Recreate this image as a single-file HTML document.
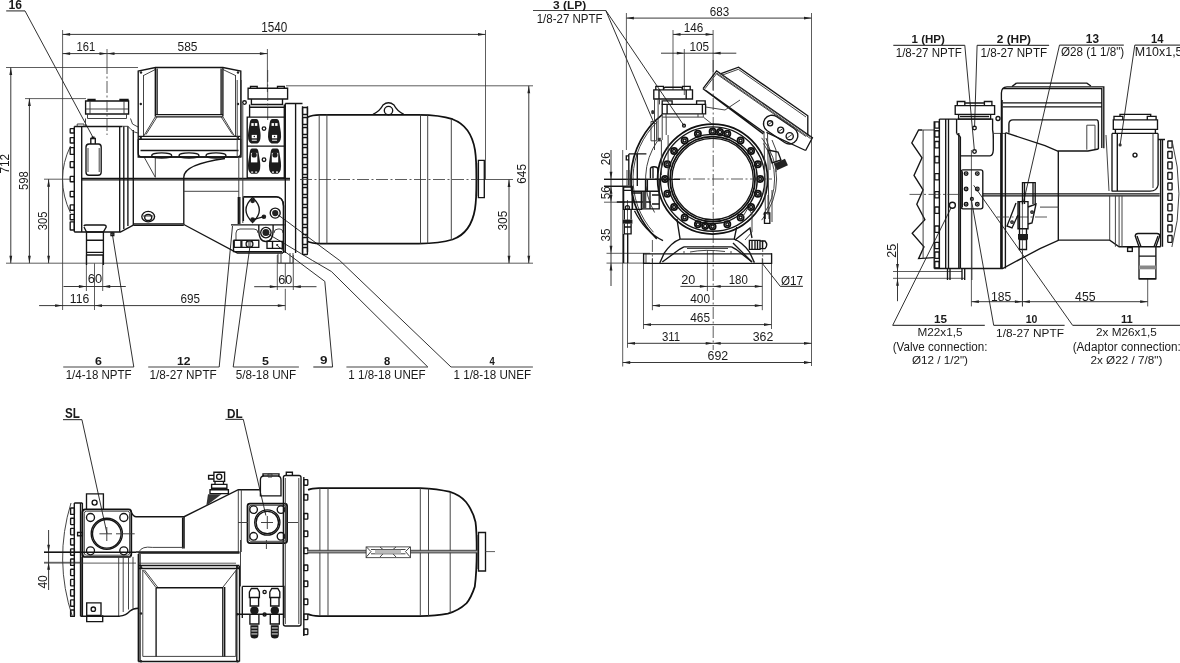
<!DOCTYPE html>
<html><head><meta charset="utf-8"><style>
html,body{margin:0;padding:0;background:#fff;width:1180px;height:663px;overflow:hidden}
svg{display:block;will-change:transform}
svg{-webkit-font-smoothing:antialiased}
text{font-family:"Liberation Sans",sans-serif;font-size:100px;fill:#1a1a1a}
</style></head><body>
<svg width="1180" height="663" viewBox="0 0 1180 663">
<style>
.d{stroke:#222;stroke-width:0.9;fill:none}
.e{stroke:#333;stroke-width:0.8;fill:none}
.u{stroke:#444;stroke-width:1.2;fill:none}
.ld{stroke:#1a1a1a;stroke-width:0.9;fill:none}
.c{stroke:#333;stroke-width:0.8;fill:none;stroke-dasharray:12 2.5 2 2.5}
.o{stroke:#151515;stroke-width:1.35;fill:none}
.O{stroke:#111;stroke-width:1.75;fill:none}
.t{stroke:#3a3a3a;stroke-width:0.95;fill:none}
.ar{fill:#222;stroke:none}
</style>
<line class="u" x1="6.2" y1="10.9" x2="25" y2="10.9"/>
<line class="ld" x1="25" y1="10.9" x2="93.6" y2="138.5"/>
<line class="d" x1="62.6" y1="34.4" x2="485.5" y2="34.4"/>
<polygon class="ar" points="62.60,34.40 70.10,33.00 70.10,35.80"/>
<polygon class="ar" points="485.50,34.40 478.00,33.00 478.00,35.80"/>
<line class="e" x1="62.6" y1="30" x2="62.6" y2="310"/>
<line class="e" x1="485.5" y1="30" x2="485.5" y2="179.5"/>
<line class="d" x1="62.6" y1="53.6" x2="267.4" y2="53.6"/>
<polygon class="ar" points="62.60,53.60 70.10,52.20 70.10,55.00"/>
<polygon class="ar" points="107.00,53.60 99.50,52.20 99.50,55.00"/>
<polygon class="ar" points="107.00,53.60 114.50,52.20 114.50,55.00"/>
<polygon class="ar" points="267.40,53.60 259.90,52.20 259.90,55.00"/>
<line class="e" x1="107" y1="49" x2="107" y2="62"/>
<line class="e" x1="267.4" y1="49" x2="267.4" y2="92"/>
<line class="e" x1="6" y1="67.5" x2="138" y2="67.5"/>
<line class="e" x1="25" y1="98.6" x2="86" y2="98.6"/>
<line class="d" x1="10.8" y1="67.5" x2="10.8" y2="263.2"/>
<polygon class="ar" points="10.80,67.50 9.40,75.00 12.20,75.00"/>
<polygon class="ar" points="10.80,263.20 9.40,255.70 12.20,255.70"/>
<line class="d" x1="29.4" y1="98.6" x2="29.4" y2="263.2"/>
<polygon class="ar" points="29.40,98.60 28.00,106.10 30.80,106.10"/>
<polygon class="ar" points="29.40,263.20 28.00,255.70 30.80,255.70"/>
<line class="d" x1="48.6" y1="179.2" x2="48.6" y2="263.2"/>
<polygon class="ar" points="48.60,179.20 47.20,186.70 50.00,186.70"/>
<polygon class="ar" points="48.60,263.20 47.20,255.70 50.00,255.70"/>
<line class="e" x1="6" y1="263.2" x2="533" y2="263.2"/>
<line class="e" x1="44" y1="179.2" x2="70" y2="179.2"/>
<line class="e" x1="286" y1="85.8" x2="533" y2="85.8"/>
<line class="d" x1="528.8" y1="85.8" x2="528.8" y2="263.2"/>
<polygon class="ar" points="528.80,85.80 527.40,93.30 530.20,93.30"/>
<polygon class="ar" points="528.80,263.20 527.40,255.70 530.20,255.70"/>
<line class="d" x1="509" y1="179.5" x2="509" y2="263.2"/>
<polygon class="ar" points="509.00,179.50 507.60,187.00 510.40,187.00"/>
<polygon class="ar" points="509.00,263.20 507.60,255.70 510.40,255.70"/>
<line class="e" x1="478" y1="179.5" x2="513" y2="179.5"/>
<line class="d" x1="63.5" y1="286.5" x2="125.8" y2="286.5"/>
<polygon class="ar" points="86.40,286.50 78.90,285.10 78.90,287.90"/>
<polygon class="ar" points="102.70,286.50 110.20,285.10 110.20,287.90"/>
<line class="e" x1="86.4" y1="255" x2="86.4" y2="291"/>
<line class="e" x1="102.7" y1="255" x2="102.7" y2="291"/>
<line class="d" x1="39.1" y1="305.6" x2="285.3" y2="305.6"/>
<polygon class="ar" points="62.60,305.60 55.10,304.20 55.10,307.00"/>
<polygon class="ar" points="94.50,305.60 102.00,304.20 102.00,307.00"/>
<polygon class="ar" points="285.30,305.60 277.80,304.20 277.80,307.00"/>
<line class="e" x1="94.5" y1="263.4" x2="94.5" y2="310"/>
<line class="e" x1="285.3" y1="288.8" x2="285.3" y2="310.2"/>
<line class="e" x1="285.3" y1="263" x2="285.3" y2="284"/>
<line class="d" x1="254.2" y1="286.7" x2="316.5" y2="286.7"/>
<polygon class="ar" points="277.30,286.70 269.80,285.30 269.80,288.10"/>
<polygon class="ar" points="293.30,286.70 300.80,285.30 300.80,288.10"/>
<line class="e" x1="277.3" y1="255" x2="277.3" y2="290"/>
<line class="e" x1="293.3" y1="255" x2="293.3" y2="290"/>
<line class="u" x1="63.2" y1="367" x2="133.8" y2="367"/>
<line class="ld" x1="133.8" y1="367" x2="112" y2="232"/>
<line class="u" x1="148.2" y1="367" x2="219.2" y2="367"/>
<line class="ld" x1="219.2" y1="367" x2="232.5" y2="226"/>
<line class="u" x1="233.2" y1="367" x2="298.9" y2="367"/>
<line class="ld" x1="233.2" y1="367" x2="250" y2="246"/>
<line class="u" x1="313.3" y1="367" x2="332.6" y2="367"/>
<path class="ld" d="M332.6,367 L324.8,281.4 L283.3,250.4 L277.6,245.9"/>
<line class="u" x1="346.4" y1="367" x2="427.8" y2="367"/>
<path class="ld" d="M427.8,367 L331.4,271.5 L312.7,260.6 L284.4,243.6 L266.3,232.9"/>
<line class="u" x1="451" y1="367" x2="532.9" y2="367"/>
<path class="ld" d="M451,367 L339.8,260.6 L281,217 L275.4,213.1"/>
<line class="u" x1="533" y1="10.5" x2="605.8" y2="10.5"/>
<line class="ld" x1="605.8" y1="10.5" x2="684" y2="125.7"/>
<line class="ld" x1="605.8" y1="10.5" x2="653.5" y2="122"/>
<line class="d" x1="626.4" y1="18.1" x2="811.5" y2="18.1"/>
<polygon class="ar" points="626.40,18.10 633.90,16.70 633.90,19.50"/>
<polygon class="ar" points="811.50,18.10 804.00,16.70 804.00,19.50"/>
<line class="e" x1="626.4" y1="13" x2="626.4" y2="150"/>
<line class="e" x1="811.5" y1="13" x2="811.5" y2="366"/>
<line class="d" x1="673" y1="34.4" x2="713.1" y2="34.4"/>
<polygon class="ar" points="673.00,34.40 680.50,33.00 680.50,35.80"/>
<polygon class="ar" points="713.10,34.40 705.60,33.00 705.60,35.80"/>
<line class="e" x1="673" y1="30" x2="673" y2="90"/>
<line class="e" x1="713.1" y1="30" x2="713.1" y2="90"/>
<line class="d" x1="661" y1="53.2" x2="736.3" y2="53.2"/>
<polygon class="ar" points="684.30,53.20 676.80,51.80 676.80,54.60"/>
<polygon class="ar" points="713.10,53.20 720.60,51.80 720.60,54.60"/>
<line class="e" x1="684.3" y1="49" x2="684.3" y2="95"/>
<line class="d" x1="611" y1="150" x2="611" y2="286"/>
<polygon class="ar" points="611.00,179.20 609.60,171.70 612.40,171.70"/>
<polygon class="ar" points="611.00,186.30 609.60,193.80 612.40,193.80"/>
<polygon class="ar" points="611.00,202.20 609.60,194.70 612.40,194.70"/>
<polygon class="ar" points="611.00,253.30 609.60,245.80 612.40,245.80"/>
<polygon class="ar" points="611.00,263.10 609.60,270.60 612.40,270.60"/>
<line class="e" x1="604" y1="179.2" x2="640" y2="179.2"/>
<line class="e" x1="604" y1="186.3" x2="633" y2="186.3"/>
<line class="e" x1="604" y1="202.2" x2="625" y2="202.2"/>
<line class="e" x1="606.5" y1="253.3" x2="650" y2="253.3"/>
<line class="e" x1="606.5" y1="263.1" x2="650" y2="263.1"/>
<line class="d" x1="680.4" y1="286.4" x2="762.3" y2="286.4"/>
<polygon class="ar" points="707.40,286.40 699.90,285.00 699.90,287.80"/>
<polygon class="ar" points="713.20,286.40 720.70,285.00 720.70,287.80"/>
<polygon class="ar" points="762.30,286.40 754.80,285.00 754.80,287.80"/>
<line class="e" x1="707.4" y1="250" x2="707.4" y2="291.1"/>
<line class="u" x1="780.3" y1="286.4" x2="802.9" y2="286.4"/>
<line class="ld" x1="780.3" y1="286.4" x2="762.6" y2="263.8"/>
<line class="d" x1="652.4" y1="305.6" x2="762.3" y2="305.6"/>
<polygon class="ar" points="652.40,305.60 659.90,304.20 659.90,307.00"/>
<polygon class="ar" points="762.30,305.60 754.80,304.20 754.80,307.00"/>
<line class="e" x1="652.4" y1="258" x2="652.4" y2="310.2"/>
<line class="e" x1="762.3" y1="258" x2="762.3" y2="310.2"/>
<line class="d" x1="643.5" y1="324.6" x2="771.5" y2="324.6"/>
<polygon class="ar" points="643.50,324.60 651.00,323.20 651.00,326.00"/>
<polygon class="ar" points="771.50,324.60 764.00,323.20 764.00,326.00"/>
<line class="e" x1="643.5" y1="253" x2="643.5" y2="329"/>
<line class="e" x1="771.5" y1="253" x2="771.5" y2="329"/>
<line class="d" x1="627.5" y1="343.3" x2="811.5" y2="343.3"/>
<polygon class="ar" points="627.50,343.30 635.00,341.90 635.00,344.70"/>
<polygon class="ar" points="713.20,343.30 705.70,341.90 705.70,344.70"/>
<polygon class="ar" points="713.20,343.30 720.70,341.90 720.70,344.70"/>
<polygon class="ar" points="811.50,343.30 804.00,341.90 804.00,344.70"/>
<line class="e" x1="627.5" y1="200" x2="627.5" y2="347.8"/>
<line class="d" x1="622.7" y1="362.5" x2="811.5" y2="362.5"/>
<polygon class="ar" points="622.70,362.50 630.20,361.10 630.20,363.90"/>
<polygon class="ar" points="811.50,362.50 804.00,361.10 804.00,363.90"/>
<line class="e" x1="622.7" y1="150" x2="622.7" y2="366.5"/>
<line class="c" x1="713.2" y1="60" x2="713.2" y2="350"/>
<line class="u" x1="893.3" y1="45.3" x2="964.8" y2="45.3"/>
<line class="ld" x1="964.8" y1="45.3" x2="974.3" y2="149.5"/>
<line class="u" x1="977.1" y1="45.3" x2="1049.1" y2="45.3"/>
<line class="ld" x1="977.1" y1="45.3" x2="974.6" y2="126"/>
<line class="u" x1="1059.5" y1="45.1" x2="1123.8" y2="45.1"/>
<line class="ld" x1="1059.5" y1="45.1" x2="1023.5" y2="202"/>
<line class="u" x1="1134.8" y1="45.1" x2="1180" y2="45.1"/>
<line class="ld" x1="1134.8" y1="45.1" x2="1120.1" y2="144.9"/>
<line class="d" x1="897.5" y1="243.3" x2="897.5" y2="301.2"/>
<polygon class="ar" points="897.50,271.50 896.10,264.00 898.90,264.00"/>
<polygon class="ar" points="897.50,278.30 896.10,285.80 898.90,285.80"/>
<line class="e" x1="893" y1="271.5" x2="962" y2="271.5"/>
<line class="e" x1="893" y1="278.3" x2="964.7" y2="278.3"/>
<line class="d" x1="971.4" y1="301.7" x2="1147.7" y2="301.7"/>
<polygon class="ar" points="971.40,301.70 978.90,300.30 978.90,303.10"/>
<polygon class="ar" points="1022.40,301.70 1014.90,300.30 1014.90,303.10"/>
<polygon class="ar" points="1022.40,301.70 1029.90,300.30 1029.90,303.10"/>
<polygon class="ar" points="1147.70,301.70 1140.20,300.30 1140.20,303.10"/>
<line class="e" x1="971.4" y1="150" x2="971.4" y2="306.4"/>
<line class="e" x1="1022.4" y1="200" x2="1022.4" y2="306.4"/>
<line class="e" x1="1147.7" y1="278.6" x2="1147.7" y2="306.4"/>
<line class="u" x1="892.7" y1="325.3" x2="984.8" y2="325.3"/>
<line class="ld" x1="892.7" y1="325.3" x2="951" y2="208"/>
<line class="u" x1="993.7" y1="325.3" x2="1064.6" y2="325.3"/>
<line class="ld" x1="993.7" y1="325.3" x2="971.6" y2="201"/>
<line class="u" x1="1072.6" y1="325.3" x2="1180" y2="325.3"/>
<line class="ld" x1="1072.6" y1="325.3" x2="973.7" y2="185.3"/>
<line class="u" x1="63" y1="419.6" x2="81.9" y2="419.6"/>
<line class="ld" x1="81.9" y1="419.6" x2="107" y2="533.5"/>
<line class="u" x1="225.4" y1="419.4" x2="243.3" y2="419.4"/>
<line class="ld" x1="243.3" y1="419.4" x2="265.9" y2="515.5"/>
<line class="d" x1="48.6" y1="530" x2="48.6" y2="590"/>
<polygon class="ar" points="48.60,552.20 47.20,544.70 50.00,544.70"/>
<polygon class="ar" points="48.60,562.30 47.20,569.80 50.00,569.80"/>
<line class="e" x1="44" y1="552.2" x2="80" y2="552.2"/>
<line class="e" x1="44" y1="562.3" x2="80" y2="562.3"/>
<path class="t" d="M70.5,146 Q54.5,179 70.5,213"/>
<rect class="o" x="70.2" y="128.6" width="4.1" height="4.4" rx="0.5"/>
<rect class="o" x="70.2" y="137.6" width="4.1" height="5.4" rx="0.5"/>
<rect class="o" x="70.2" y="147.6" width="4.1" height="6.8" rx="0.5"/>
<rect class="o" x="70.2" y="161.6" width="4.1" height="5.9" rx="0.5"/>
<rect class="o" x="70.2" y="176.4" width="4.1" height="5.4" rx="0.5"/>
<rect class="o" x="70.2" y="191.3" width="4.1" height="5.4" rx="0.5"/>
<rect class="o" x="70.2" y="204.9" width="4.1" height="5.4" rx="0.5"/>
<rect class="o" x="70.2" y="214.4" width="4.1" height="5.4" rx="0.5"/>
<rect class="o" x="70.2" y="221.8" width="4.1" height="8.2" rx="0.5"/>
<path class="o" d="M74.3,126.5 V232 M81.7,126.3 V232.2 M74.3,126.5 H122.4 M74.3,232 H120.4 L133.3,225.2"/>
<path class="t" d="M77.2,126.3 V124 H84 V126.3"/>
<path class="o" d="M119.7,126.3 V232 M123.8,126.3 V229 M127.9,126.3 V226 M133.3,130 V225.2"/>
<path class="o" d="M85.6,114 V101 H128.6 V114 Z M88,101 V99.5 H95 V101 M120,101 V99.5 H128 V101"/>
<path class="t" d="M87.5,114 V118.5 H126.5 V114 M85.5,118.5 V126.3 M130.5,118.5 L132.5,124 L138,127"/>
<path class="t" d="M86,109 H128 M90,101 V114 M124,101 V114"/>
<path class="c" d="M107,62 V135"/>
<path class="o" d="M86,147 Q86,144.2 89,144 L98.5,144 Q101.2,144.2 101.2,147 L101.2,172 Q101.2,175.2 98,175.2 L89,175.2 Q86,175.2 86,172 Z"/>
<path class="t" d="M88,148 V172 M99.2,148 V172"/>
<path class="o" d="M90.8,144 V138.5 H95.3 V144 M91.5,137.2 H94.6"/>
<path class="t" d="M122.4,126.3 L128,126.3 L131,129.5 L134.5,132 L137.8,133"/>
<path class="o" d="M81.7,178.4 H290 M81.7,179.8 H290"/>
<ellipse class="o" cx="148.2" cy="216.6" rx="6.4" ry="5.2"/>
<ellipse class="o" cx="148.2" cy="217.5" rx="3.5" ry="3"/>
<path class="t" d="M143,216 H153.4"/>
<path class="o" d="M133.3,223.9 H183.8 M133.3,225.4 H183.8"/>
<path class="o" d="M183.8,224.5 L237.4,253 H283"/>
<path class="o" d="M183.8,177 V224.5"/>
<path class="o" d="M183.8,177 C184,168 200,162 225,158.5"/>
<path class="t" d="M183.8,191.3 H238.8"/>
<path class="t" d="M155.3,157.2 V177.3 M144.2,157.2 L155.3,177.3"/>
<path class="o" d="M83.8,226 Q84.5,225 86,225 H104 Q106.2,225 106.2,227 L103.4,232 V265 M86.5,232 V265 M84,227 L86.5,232 H103.4"/>
<path class="o" d="M86.5,240.2 H103.4 M86.5,252.4 H103.4 M86.5,255 H103.4"/>
<rect class="o" x="111" y="233" width="2.8" height="2.6"/>
<path class="o" d="M138.2,157 V71 L155.5,67.5 H222.9 L240.8,71 V157 Z"/>
<path class="t" d="M143.5,75 V136 M235.5,75 V136"/>
<path class="t" d="M143.5,75.5 L155.3,69.5 M235.5,75.5 L222.9,69.5"/>
<path class="o" d="M155.3,67.8 V116.6 M157.1,68.5 V115 M222.9,67.8 V116.6 M221.1,68.5 V115"/>
<path class="o" d="M155.3,114.6 H222.9 M155.3,116.8 H222.9"/>
<path class="t" d="M155.3,116.8 L143.7,136.1 M157.1,116.8 L146,134.5 M222.9,116.8 L234.5,136.1 M221.1,116.8 L232.5,134.5"/>
<path class="o" d="M138.2,136.3 H240.8 M138.2,139.2 H240.8"/>
<path class="o" d="M140.5,150.5 H238.5"/>
<path class="o" d="M138.2,139.2 V153 Q138.2,157 142,157 H237 Q240.8,157 240.8,153 V139"/>
<ellipse class="o" cx="161.7" cy="155.5" rx="10" ry="2.6"/>
<ellipse class="o" cx="189" cy="155.5" rx="10" ry="2.6"/>
<ellipse class="o" cx="216" cy="155.5" rx="10" ry="2.6"/>
<circle cx="140.8" cy="104" r="1.2" fill="#222"/>
<circle cx="238" cy="104" r="1.2" fill="#222"/>
<circle cx="141" cy="72.5" r="1.2" fill="#222"/>
<circle cx="238" cy="72.5" r="1.2" fill="#222"/>
<circle cx="140.8" cy="138" r="1.2" fill="#222"/>
<circle cx="238" cy="138" r="1.2" fill="#222"/>
<circle class="o" cx="244.5" cy="102.6" r="1.8"/>
<path class="t" d="M238.8,157 V223 M242.8,104 V223 M237.2,80 V157 M241.2,80 V157"/>
<path class="o" d="M248.1,88.2 H287.6 V99 H248.1 Z M250.5,88.2 V86.3 H257.2 V88.2 M277.5,88.2 V86.3 H284.3 V88.2"/>
<path class="o" d="M251.4,99 V104.5 H282.5 V99 M249.6,104.5 V117.1 M284.3,104.5 V117.1 M249.6,107.2 H284.3"/>
<path class="c" d="M267.7,70 V122"/>
<path class="o" d="M247.2,117.1 H284.3 V177.8 H247.2 Z M247.2,146.1 H284.3"/>
<path fill="#1c1c1c" d="M249.7,122.9 Q250.2,118.9 252.29999999999998,118.9 H256.29999999999995 Q258.4,118.9 258.9,122.9 L260.4,132.485 Q261.4,141.6 257.29999999999995,143.6 H251.29999999999998 Q247.2,141.6 248.2,132.485 Z"/>
<rect fill="#fff" x="251.29999999999998" y="123.10000000000001" width="6" height="2.8"/>
<rect fill="#1c1c1c" x="253.7" y="123.10000000000001" width="1.2" height="2.8"/>
<rect fill="#fff" x="251.7" y="134.9" width="5.2" height="3.4"/>
<circle fill="#1c1c1c" cx="254.29999999999998" cy="136.5" r="0.8"/>
<rect fill="#fff" x="251.79999999999998" y="139.70000000000002" width="5" height="1"/>
<path fill="#1c1c1c" d="M269.7,122.9 Q270.2,118.9 272.54999999999995,118.9 H276.54999999999995 Q278.9,118.9 279.4,122.9 L280.9,132.485 Q281.9,141.6 277.54999999999995,143.6 H271.54999999999995 Q267.2,141.6 268.2,132.485 Z"/>
<rect fill="#fff" x="271.54999999999995" y="123.10000000000001" width="6" height="2.8"/>
<rect fill="#1c1c1c" x="273.94999999999993" y="123.10000000000001" width="1.2" height="2.8"/>
<rect fill="#fff" x="271.94999999999993" y="134.9" width="5.2" height="3.4"/>
<circle fill="#1c1c1c" cx="274.54999999999995" cy="136.5" r="0.8"/>
<rect fill="#fff" x="272.04999999999995" y="139.70000000000002" width="5" height="1"/>
<path fill="#1c1c1c" d="M249.7,152.4 Q250.2,148.4 252.15,148.4 H256.15 Q258.1,148.4 258.6,152.4 L260.1,162.315 Q261.1,171.7 257.15,173.7 H251.15 Q247.2,171.7 248.2,162.315 Z"/>
<rect fill="#fff" x="250.95000000000002" y="152.9" width="6.4" height="9.5"/>
<circle fill="#1c1c1c" cx="254.15" cy="154.9" r="2.6"/>
<rect fill="#fff" x="251.15" y="171.5" width="2" height="1.2"/>
<rect fill="#fff" x="255.15" y="171.5" width="2" height="1.2"/>
<path fill="#1c1c1c" d="M270.6,152.4 Q271.1,148.4 273.0,148.4 H277.0 Q278.9,148.4 279.4,152.4 L280.9,162.315 Q281.9,171.7 278.0,173.7 H272.0 Q268.1,171.7 269.1,162.315 Z"/>
<rect fill="#fff" x="271.8" y="152.9" width="6.4" height="9.5"/>
<circle fill="#1c1c1c" cx="275.0" cy="154.9" r="2.6"/>
<rect fill="#fff" x="272.0" y="171.5" width="2" height="1.2"/>
<rect fill="#fff" x="276.0" y="171.5" width="2" height="1.2"/>
<circle class="o" cx="264" cy="128.6" r="1.8"/><circle class="o" cx="264" cy="159.7" r="1.8"/>
<path class="o" d="M243.5,196.7 H275.4 Q283.5,197 283.5,206 V253"/>
<path class="o" d="M252.6,197.5 Q259.5,204 259.3,210 Q259.5,216 252.6,222.5 Q245.8,216 246,210 Q245.8,204 252.6,197.5 Z"/>
<circle fill="#222" cx="252.6" cy="200.8" r="2.4"/><circle fill="#222" cx="252.6" cy="219.7" r="2.4"/><circle fill="#222" cx="263.9" cy="216.7" r="2.3"/>
<path class="o" d="M252.6,219.7 L263.9,216.7"/>
<circle class="o" cx="275.2" cy="213.1" r="5"/><circle fill="#222" cx="275.2" cy="213.1" r="3.1"/>
<circle class="o" cx="265.9" cy="232.6" r="5.2"/><circle fill="#222" cx="265.9" cy="232.6" r="3.5"/>
<path class="o" d="M258.8,224.9 V230 Q258.8,241.5 265.9,241.5 Q273.1,241.5 273.1,230 V224.9"/>
<path class="o" d="M231,224.9 H284.5 M233.5,240.2 V251.6 H282 M238.3,197 V224 M239.8,197 V224 M243.4,197.2 V221"/>
<path class="t" d="M236,240 V233 Q236,229 240,229 H254 Q258,229 258,233 M274,233 Q274,229 278,229 H280 Q283,229 283,233"/>
<path class="o" d="M234.2,240.2 H258.8 V247.4 H234.2 Z"/>
<rect fill="#222" x="240.3" y="240.2" width="2.2" height="7.2"/>
<circle class="o" cx="249.5" cy="244.1" r="3.4"/><rect fill="#333" x="247.8" y="240.5" width="3.4" height="6.8" opacity="0.55"/>
<path class="o" d="M267,241.3 H282.3 V248.4 H267 Z M272.5,241.3 V248.4"/>
<circle fill="#222" cx="277.2" cy="245" r="1.1"/>
<path class="o" d="M243.5,196.7 H275.4 Q283.5,197 283.5,206 V253"/>
<path class="t" d="M278,253 V263.2 H293 V253 M281,253 V263 M290,253 V263"/>
<path class="o" d="M285.3,103.5 V253 M295.6,103.5 V253 M302.5,106.3 V253 M285.3,103.5 H302.5"/>
<path class="o" d="M307.5,106.3 V252"/>
<rect class="o" x="302.6" y="107.5" width="4.8" height="7" rx="0.6"/>
<rect class="o" x="302.6" y="117.5" width="4.8" height="7" rx="0.6"/>
<rect class="o" x="302.6" y="127.5" width="4.8" height="7" rx="0.6"/>
<rect class="o" x="302.6" y="137.5" width="4.8" height="7" rx="0.6"/>
<rect class="o" x="302.6" y="147.5" width="4.8" height="7" rx="0.6"/>
<rect class="o" x="302.6" y="157.5" width="4.8" height="7" rx="0.6"/>
<rect class="o" x="302.6" y="167.5" width="4.8" height="7" rx="0.6"/>
<rect class="o" x="302.6" y="177.5" width="4.8" height="7" rx="0.6"/>
<rect class="o" x="302.6" y="187.5" width="4.8" height="7" rx="0.6"/>
<rect class="o" x="302.6" y="197.5" width="4.8" height="7" rx="0.6"/>
<rect class="o" x="302.6" y="207.5" width="4.8" height="7" rx="0.6"/>
<rect class="o" x="302.6" y="217.5" width="4.8" height="7" rx="0.6"/>
<rect class="o" x="302.6" y="227.5" width="4.8" height="7" rx="0.6"/>
<rect class="o" x="302.6" y="237.5" width="4.8" height="7" rx="0.6"/>
<rect class="o" x="302.6" y="247.5" width="4.8" height="7" rx="0.6"/>
<path class="O" d="M307.5,117.2 Q312,115 320,114.9 H419 Q440,115 452.6,119.2 Q471,126 475,150 Q476.5,160 476.5,179.5 Q476.5,199 475,209 Q471,233 452.6,239.5 Q440,243.4 419,243.6 H320 Q312,243.3 307.5,241.5"/>
<path class="t" d="M319.2,114.3 V243.6 M326.9,114.3 V243.6 M420.5,114.3 V243.6 M427.7,114.5 V243.5 M451.3,119 V240"/>
<path class="o" d="M478.4,160.3 H484.3 V197.6 H478.4 Z M476.5,163 V196"/>
<path class="o" d="M373,114.3 Q380,111 383,105 Q388.5,100.5 394,105 Q397,111 403.8,114.3"/>
<circle class="o" cx="388.5" cy="110.6" r="4.2"/>
<path class="c" d="M300,179.5 H478 "/>
<path class="O" d="M656.88,238.75 A81.7,81.7 0 0 1 662.30,114.62"/>
<path class="t" d="M653.45,232.26 A79.6,79.6 0 0 1 657.31,121.74"/>
<path class="t" d="M654.58,212.50 A67,67 0 0 1 657.72,140.57"/>
<path class="t" d="M761.63,137.86 A64,64 0 0 1 761.63,220.14"/>
<path class="t" d="M763.39,143.44 A62,62 0 0 1 763.39,214.56"/>
<circle class="O" cx="712.6" cy="179.0" r="55"/>
<circle class="o" cx="712.6" cy="179.0" r="52.2"/>
<circle class="o" cx="712.6" cy="179.0" r="44.7"/>
<circle class="O" cx="712.6" cy="179.0" r="42.5"/>
<circle class="o" cx="712.6" cy="179.0" r="40.7"/>
<circle class="O" cx="760.20" cy="179.00" r="3.1"/><circle class="o" cx="760.20" cy="179.00" r="1.5"/>
<circle class="O" cx="757.87" cy="193.71" r="3.1"/><circle class="o" cx="757.87" cy="193.71" r="1.5"/>
<circle class="O" cx="751.11" cy="206.98" r="3.1"/><circle class="o" cx="751.11" cy="206.98" r="1.5"/>
<circle class="O" cx="740.58" cy="217.51" r="3.1"/><circle class="o" cx="740.58" cy="217.51" r="1.5"/>
<circle class="O" cx="727.31" cy="224.27" r="3.1"/><circle class="o" cx="727.31" cy="224.27" r="1.5"/>
<circle class="O" cx="684.62" cy="217.51" r="3.1"/><circle class="o" cx="684.62" cy="217.51" r="1.5"/>
<circle class="O" cx="674.09" cy="206.98" r="3.1"/><circle class="o" cx="674.09" cy="206.98" r="1.5"/>
<circle class="O" cx="667.33" cy="193.71" r="3.1"/><circle class="o" cx="667.33" cy="193.71" r="1.5"/>
<circle class="O" cx="665.00" cy="179.00" r="3.1"/><circle class="o" cx="665.00" cy="179.00" r="1.5"/>
<circle class="O" cx="667.33" cy="164.29" r="3.1"/><circle class="o" cx="667.33" cy="164.29" r="1.5"/>
<circle class="O" cx="674.09" cy="151.02" r="3.1"/><circle class="o" cx="674.09" cy="151.02" r="1.5"/>
<circle class="O" cx="684.62" cy="140.49" r="3.1"/><circle class="o" cx="684.62" cy="140.49" r="1.5"/>
<circle class="O" cx="697.89" cy="133.73" r="3.1"/><circle class="o" cx="697.89" cy="133.73" r="1.5"/>
<circle class="O" cx="740.58" cy="140.49" r="3.1"/><circle class="o" cx="740.58" cy="140.49" r="1.5"/>
<circle class="O" cx="751.11" cy="151.02" r="3.1"/><circle class="o" cx="751.11" cy="151.02" r="1.5"/>
<circle class="O" cx="757.87" cy="164.29" r="3.1"/><circle class="o" cx="757.87" cy="164.29" r="1.5"/>
<circle class="O" cx="712.6" cy="131.4" r="3.1"/><circle class="o" cx="712.6" cy="131.4" r="1.6"/>
<circle class="O" cx="720.0" cy="132.0" r="3.1"/><circle class="o" cx="720.0" cy="132.0" r="1.6"/>
<circle class="O" cx="727.3" cy="133.7" r="3.1"/><circle class="o" cx="727.3" cy="133.7" r="1.6"/>
<circle class="O" cx="697.9" cy="224.3" r="3.1"/><circle class="o" cx="697.9" cy="224.3" r="1.6"/>
<circle class="O" cx="705.2" cy="226.0" r="3.1"/><circle class="o" cx="705.2" cy="226.0" r="1.6"/>
<circle class="O" cx="712.6" cy="226.6" r="3.1"/><circle class="o" cx="712.6" cy="226.6" r="1.6"/>
<line class="c" x1="655" y1="179" x2="772" y2="179"/>
<path class="o" d="M643.6,253.8 H771.6 V263.3 H643.6 Z"/>
<path class="t" d="M646,253.8 V263.3"/>
<line class="c" x1="652.4" y1="240" x2="652.4" y2="263.3"/>
<line class="c" x1="762.7" y1="240" x2="762.7" y2="263.3"/>
<path class="o" d="M676.9,218.8 L680.1,239.1 M736.7,227 L734.1,239.8 M680.1,239.1 H734.1"/>
<path class="o" d="M680.1,239.1 Q672,242 664.2,253.1 L659.8,263 M734.1,239.1 Q742,242 749.4,251.8 L754.4,262.6"/>
<path class="o" d="M683.9,246.8 H731.6 M683.9,246.8 L679.5,249.3 L662.3,262 M731.6,246.8 L736,249.3 L752,262"/>
<path class="t" d="M687,248.5 H728 M684,251 V253.8 M731,251 V253.8 M690,252 Q705,249 725,251.5"/>
<path class="o" d="M749.4,240.4 H760 V249.3 H749.4 Z M760,241 H765 Q768.5,244.8 765,248.6 H760"/>
<path class="o" d="M752,240.4 V249.3 M755,240.4 V249.3 M757.5,240.4 V249.3 M762.5,241 V248.6"/>
<path class="o" d="M735,240 L750,228 L752,238 M733,243 L752,262"/>
<path class="t" d="M742,218 L748,208 L752,214 V232 L745,240"/>
<path class="o" d="M703,88.7 L716.6,70.9 L812.4,137.8 L805.6,150.5"/>
<path class="t" d="M704.8,88.9 L716.9,73.2 L810.6,138.6"/>
<path class="t" d="M718.5,72.5 L811,137.2"/>
<path class="o" d="M721,73.6 L738.5,67.2 L807.8,115.8 V135.4"/>
<path class="t" d="M722.5,75 L738.3,69.3 L806,117"/>
<path class="o" d="M703,88.7 L763.3,133.9 M705.5,90.3 L764.5,132.6"/>
<path class="o" d="M766.4,132.4 L805.6,150.5"/>
<g transform="translate(780.7,129.6) rotate(34)"><rect class="o" x="-19" y="-8.5" width="38" height="17" rx="8.5"/></g>
<circle class="o" cx="770.1" cy="123.3" r="2.6"/>
<line class="t" x1="768.3" y1="124.6" x2="771.9" y2="122.0"/>
<circle class="o" cx="780.7" cy="130.1" r="3.0"/>
<line class="t" x1="778.6" y1="131.6" x2="782.8" y2="128.6"/>
<circle class="o" cx="789.7" cy="136.2" r="3.6"/>
<line class="t" x1="787.2" y1="138.0" x2="792.2" y2="134.4"/>
<path class="t" d="M766,138 L770,150 V170 M772,140 L776,150 V172"/>
<path class="o" d="M768,150 L778,152 L781,160 L772,163 Z"/>
<rect x="775" y="161" width="12" height="7" fill="#222" transform="rotate(-25 781 164.5)"/>
<path class="t" d="M768,195 V215 M772,190 V222"/>
<path class="t" d="M764,133 L765.5,219 M767.5,133 L769,219"/>
<path class="o" d="M764.5,212.8 H769.8 V223.4 H764.5 Z"/>
<path class="t" d="M716.6,74 L806,136.5"/>
<path class="o" d="M653.8,89.9 H692.5 V99 H653.8 Z M659,89.9 V99 M686.2,89.9 V99"/>
<path class="o" d="M655.8,89.9 V86.3 H663.5 V89.9 M682.5,89.9 V86.3 H690.2 V89.9 M663.5,88.5 L665.3,87.2 H681 L682.5,88.5"/>
<path class="o" d="M662.2,104.4 H705.6 V113.9 H662.2 Z M667.1,104.4 V113.9 M702.4,104.4 V113.9"/>
<path class="o" d="M662.2,104.4 V100.8 H672.1 V104.4 M696.6,104.4 V100.8 H705.2 V104.4"/>
<path class="t" d="M662.2,113.9 V117.1 H703.3 V113.9 M666,113.9 V117.1 M698,113.9 V117.1"/>
<path class="t" d="M654.5,99 V150 M658.1,99 V140 M659.5,99 V104.4 M662.2,117.1 V140 M666.2,117.1 V135"/>
<path class="t" d="M703.3,117.1 L712,124 M705.6,107 L725,110 L740,100"/>
<ellipse fill="#333" cx="652.7" cy="112.1" rx="1.6" ry="2.2"/>
<circle class="o" cx="684" cy="125.7" r="1.4"/>
<path class="o" d="M628.8,153.9 H646.4 M628.8,153.9 V185.3 M637.3,153.9 V186 M626.3,155.9 H628.8 V159.8 H626.3 Z"/>
<path class="t" d="M661.4,140 V175 M668.1,135 V175"/>
<path class="t" d="M651,121.5 H656.6 V140.8 H651 Z"/>
<rect fill="#333" x="657.8" y="137.8" width="3" height="3.6"/>
<line class="o" x1="604" y1="179.3" x2="680" y2="179.3"/>
<line class="o" x1="604" y1="186.3" x2="632.4" y2="186.3"/>
<line class="o" x1="616.8" y1="202" x2="650.8" y2="202"/>
<path class="o" d="M650.4,178.4 V169 Q650.4,166.7 654,166.7 Q657.7,166.7 657.7,169 V178.4 M653,167.5 V178.4"/>
<path class="o" d="M637.6,179.4 H659.2 V191.2 M645.5,179.4 V191.2 M647.4,179.4 V191.2 M632.7,191.2 H659.2"/>
<path class="o" d="M641.5,191.2 V208.8 H659.2 V191.2 M650,191.2 V208.8 M652,195 H659 M652,204 H659"/>
<rect fill="#444" x="642.5" y="192" width="3.8" height="16"/>
<path class="o" d="M632.4,193 H641.5 V209.4 H632.4 Z"/>
<path class="o" d="M623.6,187 H632.4 V209.4 H623.6 Z M623.6,190.4 H632.4"/>
<circle class="o" cx="627.4" cy="207.6" r="2"/>
<path class="o" d="M624.3,209.4 V219.6 M631.1,209.4 V219.6"/>
<rect fill="#1c1c1c" x="622.9" y="219.6" width="9.5" height="4.1"/>
<path class="o" d="M624.3,223.7 V227 M631.1,223.7 V227 M624.3,227 H631.1 V233.9 H624.3 Z"/>
<path class="o" d="M623.6,233.9 V263 M627.7,233.9 V263"/>
<path class="t" d="M627,170 V187 M629,170 V187"/>
<path class="o" d="M634.5,210.8 Q645,232 663,240.7"/>
<path class="o" d="M922,130 L918.6,130 L911.8,142.9 L922,157.8 L914,175.4 L923.1,189.8 L916.8,204.3 L924.9,219.7 L912.2,233.2 L924,246.8 L918.6,258.6 L933.9,257.6"/>
<path class="t" d="M922,130 H934.2 M923.1,130 V258"/>
<path class="o" d="M934.2,121.2 V268.5 M939.4,119.1 V268.5 M945.7,119.1 V268.5 M948.5,119.1 V268.5 M956.6,119.1 V133.4 M958.8,133 V268.5 M960.4,136.8 V268.5"/>
<path class="o" d="M939.4,119.1 H956.6 M934.2,268.5 H960.4"/>
<rect class="o" x="934.8" y="121.8" width="4.4" height="6.3" rx="0.6"/>
<rect class="o" x="934.8" y="130.7" width="4.4" height="6.3" rx="0.6"/>
<rect class="o" x="934.8" y="141.5" width="4.4" height="6.3" rx="0.6"/>
<rect class="o" x="934.8" y="156.5" width="4.4" height="6.3" rx="0.6"/>
<rect class="o" x="934.8" y="173.6" width="4.4" height="6.3" rx="0.6"/>
<rect class="o" x="934.8" y="191.6" width="4.4" height="6.3" rx="0.6"/>
<rect class="o" x="934.8" y="207.0" width="4.4" height="6.3" rx="0.6"/>
<rect class="o" x="934.8" y="226.0" width="4.4" height="6.3" rx="0.6"/>
<rect class="o" x="934.8" y="242.3" width="4.4" height="6.3" rx="0.6"/>
<rect class="o" x="934.8" y="252.0" width="4.4" height="6.3" rx="0.6"/>
<rect class="o" x="934.8" y="261.5" width="4.4" height="6.3" rx="0.6"/>
<path class="o" d="M955.2,105.6 H994.6 V114.4 H955.2 Z M957.3,105.6 V101.5 H964.8 V105.6 M984.4,105.6 V101.5 H991.9 V105.6 M965,103 H984.4"/>
<path class="o" d="M958.6,114.4 V119.1 H990.6 V114.4 M960,116.5 H989"/>
<path class="o" d="M956.6,119.1 H992.6 V130 Q993.5,133.4 993.3,140 V150 Q993,155.8 989.9,155.8 H960.4 M956.6,133.4 L960.4,136.8"/>
<circle class="o" cx="974.5" cy="128" r="1.8"/><circle class="o" cx="974.5" cy="151.5" r="1.8"/>
<circle class="o" cx="998" cy="118.5" r="2"/>
<path class="t" d="M994,133.4 H1005.5"/>
<path class="o" d="M1001.4,133 V93 Q1001.4,87 1007,86.8 H1103.8 V148.3"/>
<path class="o" d="M1003,88.6 H1102 M1016.4,83.1 H1086.9 L1090.9,86 M1016.4,83.1 L1012,86.5"/>
<path class="o" d="M1002.8,102.8 H1101.8 M1002.8,106.9 H1101.8 M1101.8,88 V148"/>
<path class="o" d="M1008.9,132.7 V124 Q1008.9,119.8 1013,119.8 H1097 Q1098.4,120 1098.4,124 V149"/>
<path class="t" d="M1086.8,125.2 H1095 V149.7 M1086.8,125.2 V149.7"/>
<path class="o" d="M1005.5,132.7 L1045,145.6 L1057.7,151 H1088 L1098.4,149"/>
<path class="o" d="M1002.1,100 V268.5 M1000.8,133 V268.5"/>
<path class="o" d="M1058.3,151 V240.1 M1005.4,133 V268.5"/>
<path class="o" d="M960.4,268.5 H1002.6 L1040,248.6 L1058.8,240.1 H1109.7 L1119.1,246.7 H1160.6"/>
<path class="t" d="M1040,207.1 H1058.8"/>
<line class="c" x1="997" y1="217" x2="1049.4" y2="217"/>
<path class="o" d="M982.8,193.9 H1159.7 M982.8,195.8 H1159.7"/>
<line class="c" x1="909.5" y1="194.4" x2="960" y2="194.4"/>
<path class="o" d="M963,169.9 H980.8 Q982.8,169.9 982.8,172 V206.8 Q982.8,208.8 980.8,208.8 H963 Q961.1,208.8 961.1,206.8 V172 Q961.1,169.9 963,169.9 Z"/>
<path class="o" d="M962.3,171.2 V207.5"/>
<circle class="o" cx="966.1" cy="173.6" r="1.8"/><circle fill="#333" cx="966.1" cy="173.6" r="0.9"/>
<circle class="o" cx="966.1" cy="188.9" r="1.8"/><circle fill="#333" cx="966.1" cy="188.9" r="0.9"/>
<circle class="o" cx="966.1" cy="204.3" r="1.8"/><circle fill="#333" cx="966.1" cy="204.3" r="0.9"/>
<circle class="o" cx="977.3" cy="173.6" r="1.8"/><circle fill="#333" cx="977.3" cy="173.6" r="0.9"/>
<circle class="o" cx="977.3" cy="188.9" r="1.8"/><circle fill="#333" cx="977.3" cy="188.9" r="0.9"/>
<circle class="o" cx="977.3" cy="204.3" r="1.8"/><circle fill="#333" cx="977.3" cy="204.3" r="0.9"/>
<circle class="o" cx="971.9" cy="198.9" r="1.4"/>
<circle class="o" cx="952.4" cy="205.2" r="3"/>
<line class="t" x1="971.9" y1="208.8" x2="971.9" y2="280"/>
<path class="o" d="M947.5,268.5 V280 M964.7,268.5 V280 M950,268.5 V280 M962,268.5 V280"/>
<path class="o" d="M1113.3,119.8 H1157.5 V129.3 H1113.3 Z M1114,119.8 V116.4 H1122.8 V119.8 M1147.3,119.8 V116.4 H1156.1 V119.8 M1120,116.4 V114.4 H1150.7 V116.4"/>
<path class="o" d="M1115.4,129.3 V133.4 H1155.4 V129.3 M1112,133.4 H1158.1"/>
<path class="o" d="M1112,133.4 V191.1 M1158.1,133.4 V185 Q1157,191.1 1150,191.1 H1111.6 M1117.3,133.4 V191.1"/>
<path class="t" d="M1106,135 L1109,191 M1153,133.4 V188"/>
<circle fill="#333" cx="1120.1" cy="144.9" r="1.6"/><circle class="o" cx="1135" cy="155.1" r="2"/>
<path class="o" d="M1160.6,139.5 V246.7 M1162.5,139.5 V246.7 M1158.1,139.5 H1165"/>
<rect class="o" x="1167.8" y="141.0" width="4.3" height="6.8" rx="0.6"/>
<rect class="o" x="1167.8" y="151.5" width="4.3" height="6.8" rx="0.6"/>
<rect class="o" x="1167.8" y="162.0" width="4.3" height="6.8" rx="0.6"/>
<rect class="o" x="1167.8" y="172.5" width="4.3" height="6.8" rx="0.6"/>
<rect class="o" x="1167.8" y="183.0" width="4.3" height="6.8" rx="0.6"/>
<rect class="o" x="1167.8" y="193.5" width="4.3" height="6.8" rx="0.6"/>
<rect class="o" x="1167.8" y="204.0" width="4.3" height="6.8" rx="0.6"/>
<rect class="o" x="1167.8" y="214.5" width="4.3" height="6.8" rx="0.6"/>
<rect class="o" x="1167.8" y="225.0" width="4.3" height="6.8" rx="0.6"/>
<rect class="o" x="1167.8" y="235.5" width="4.3" height="6.8" rx="0.6"/>
<path class="t" d="M1171.9,140 Q1186,194 1171.9,247"/>
<path class="t" d="M1109.7,195.8 V240.1 M1115.4,195.8 V246.7 M1119.1,195.8 V246.7 M1122,195.8 V246.7"/>
<path class="o" d="M1135.2,236 Q1135.5,233.5 1138,233.5 H1157 Q1159.7,233.5 1159.7,236 L1155.9,246.7 V278.7 H1139 V246.7 Z"/>
<path class="o" d="M1137,236 L1141,246.7 M1158,236 L1154,246.7 M1139,256.1 H1155.9 M1139,278.7 H1155.9"/>
<rect fill="#888" x="1139" y="265.5" width="16.9" height="3.8"/>
<rect class="o" x="1127.6" y="247.6" width="4.7" height="3.8"/>
<path class="o" d="M1022.5,204.3 V182.6 H1035.2 V204.3 M1024.5,182.6 V204 M1033,182.6 V204"/>
<path class="o" d="M1018,201.6 H1028 V228.7 H1018 Z M1019.5,201.6 V228.7"/>
<rect fill="#1c1c1c" x="1018" y="234" width="10" height="5.6"/>
<path class="o" d="M1019.5,228.7 V234 M1026.5,228.7 V234 M1019.5,239.6 H1026.5 V249.5 H1019.5 Z"/>
<path class="o" d="M1016,203 L1007,226 L1012,228 L1018,215 M1028,207 L1036,204 L1032,223 L1028,224"/>
<circle class="o" cx="1012" cy="222" r="1.2"/><circle class="o" cx="1032" cy="212" r="1.2"/>
<line class="e" x1="1022.5" y1="249.5" x2="1022.5" y2="306.4"/>
<path class="t" d="M71,503 Q53.5,560 72.5,617"/>
<rect class="o" x="70.6" y="508.0" width="3.8" height="6.4" rx="0.5"/>
<rect class="o" x="70.6" y="518.2" width="3.8" height="6.4" rx="0.5"/>
<rect class="o" x="70.6" y="528.4" width="3.8" height="6.4" rx="0.5"/>
<rect class="o" x="70.6" y="538.6" width="3.8" height="6.4" rx="0.5"/>
<rect class="o" x="70.6" y="548.8" width="3.8" height="6.4" rx="0.5"/>
<rect class="o" x="70.6" y="559.0" width="3.8" height="6.4" rx="0.5"/>
<rect class="o" x="70.6" y="569.2" width="3.8" height="6.4" rx="0.5"/>
<rect class="o" x="70.6" y="579.4" width="3.8" height="6.4" rx="0.5"/>
<rect class="o" x="70.6" y="589.6" width="3.8" height="6.4" rx="0.5"/>
<rect class="o" x="70.6" y="599.8" width="3.8" height="6.4" rx="0.5"/>
<rect class="o" x="70.6" y="610.0" width="3.8" height="6.4" rx="0.5"/>
<path class="o" d="M74.3,503 V616.2 M80.5,503 V616.2 M82.4,503 V616.2 M74.3,503 H82.4"/>
<rect class="o" x="77.6" y="532.4" width="4.8" height="3.4"/>
<path class="O" d="M85.5,509.4 H128.3 Q131.3,509.4 131.3,512.4 V553.9 Q131.3,556.9 128.3,556.9 H85.5 Q82.4,556.9 82.4,553.9 V512.4 Q82.4,509.4 85.5,509.4 Z"/>
<path class="t" d="M86.5,511.2 H127.5 Q129.6,511.2 129.6,513.4 V553 Q129.6,555.2 127.5,555.2 H86.5 Q84.3,555.2 84.3,553 V513.4 Q84.3,511.2 86.5,511.2 Z"/>
<circle class="o" cx="106.8" cy="533.8" r="15.6"/><circle class="o" cx="106.8" cy="533.8" r="14.3"/>
<circle class="o" cx="90.5" cy="517.5" r="4"/>
<circle class="o" cx="123.8" cy="517.5" r="4"/>
<circle class="o" cx="90.5" cy="550.8" r="4"/>
<circle class="o" cx="123.8" cy="550.8" r="4"/>
<path class="t" d="M99.4,533.8 H112 M106.8,527 V541 M116,533.8 H134.7"/>
<path class="o" d="M86.5,509.4 V493.8 H103.4 V509.4"/>
<circle class="o" cx="94.6" cy="502.6" r="2.5"/>
<path class="o" d="M131.3,512.4 Q133.5,516.7 136.1,516.7 H184.1 L238.3,489.7 H259.7"/>
<path class="o" d="M184.1,516.7 V548.5 M182.6,517.5 V548.5"/>
<path class="t" d="M238.3,489.7 V552 M241.3,489.7 V552"/>
<path class="t" d="M81.4,556.9 V616.2 M118.7,556.9 V616.2 M123.2,556.9 V612 M128.5,556.9 V609.5 M133,556.9 V608.5"/>
<path class="o" d="M80.5,616.2 H119.6 Q126,615.5 130,611 Q133,608.2 138.3,608.2"/>
<path class="t" d="M84.3,556.6 H131"/>
<path class="o" d="M86.7,602.9 H101 V615.3 H86.7 Z M86.7,615.3 V621.6 H102.7 V615.3"/>
<circle class="o" cx="93.3" cy="609.2" r="2.2"/>
<line class="o" x1="44" y1="552.2" x2="136" y2="552.2"/>
<line class="e" x1="44" y1="563.1" x2="136" y2="563.1"/>
<path class="o" d="M136,552 H239.5"/>
<path class="t" d="M139.2,551.5 Q142,546 152.3,547.4 H183"/>
<path class="o" d="M213.9,472.2 H224.6 V481.4 H213.9 Z M208.6,475.3 H213.9 V479 H208.6 Z"/>
<circle class="o" cx="219.2" cy="476.8" r="2.6"/>
<path class="o" d="M215,481.4 V484.4 M223.5,481.4 V484.4 M211.6,484.4 H226.9 V488.2 H211.6 Z M210,489.7 H228.4 V493.6 H210 Z"/>
<path fill="#333" d="M206.3,505.8 L208,494.3 H221.5 Z"/>
<path class="O" d="M250,503.5 H284.6 Q287.1,503.5 287.1,506 V540.6 Q287.1,543.1 284.6,543.1 H250 Q247.5,543.1 247.5,540.6 V506 Q247.5,503.5 250,503.5 Z"/>
<path class="t" d="M251,505.3 H283.6 Q285.4,505.3 285.4,507 V539.6 Q285.4,541.3 283.6,541.3 H251 Q249.2,541.3 249.2,539.6 V507 Q249.2,505.3 251,505.3 Z"/>
<circle class="o" cx="267.3" cy="522.5" r="12.6"/><circle class="o" cx="267.3" cy="522.5" r="11.2"/>
<circle class="o" cx="253.6" cy="509.6" r="3.8"/>
<circle class="o" cx="281" cy="509.6" r="3.8"/>
<circle class="o" cx="253.6" cy="536.3" r="3.8"/>
<circle class="o" cx="281" cy="536.3" r="3.8"/>
<path class="t" d="M261,522.5 H273 M267.3,516 V529 M238,522.5 H248 M287,522.5 H298"/>
<path class="o" d="M260.4,495.8 V480 Q260.4,476 264,476 H277.5 Q281,476 281,480 V495.8 Z M263,476 V473.8 H279 V476"/>
<path class="t" d="M268,474 H272 V477 H268 Z"/>
<path class="o" d="M285.4,475.5 H299 Q301,475.5 301,477.5 V624 Q301,626 299,626 H285.4 Q283.4,626 283.4,624 V477.5 Q283.4,475.5 285.4,475.5 Z"/>
<path class="t" d="M285.3,478 V624 M298.8,478 V624"/>
<path class="o" d="M286.3,476 V472.2 H292.4 V476"/>
<rect class="o" x="303.8" y="479.6" width="4" height="5.6" rx="0.6"/>
<rect class="o" x="303.8" y="494.5" width="4" height="5.6" rx="0.6"/>
<rect class="o" x="303.8" y="513.5" width="4" height="5.6" rx="0.6"/>
<rect class="o" x="303.8" y="531.0" width="4" height="5.6" rx="0.6"/>
<rect class="o" x="303.8" y="548.0" width="4" height="5.6" rx="0.6"/>
<rect class="o" x="303.8" y="565.0" width="4" height="5.6" rx="0.6"/>
<rect class="o" x="303.8" y="581.0" width="4" height="5.6" rx="0.6"/>
<rect class="o" x="303.8" y="599.0" width="4" height="5.6" rx="0.6"/>
<rect class="o" x="303.8" y="614.0" width="4" height="5.6" rx="0.6"/>
<rect class="o" x="303.8" y="629.0" width="4" height="5.6" rx="0.6"/>
<path class="o" d="M303.8,477 V636"/>
<path class="O" d="M308.1,489.9 Q312,488.1 319,488.1 H420.3 Q438,489 449.3,491.7 Q460,495 466,502 Q473,511 475.5,522 Q476.7,530 476.7,551.6 Q476.7,572 474.8,586.6 Q471,598 466.4,603.4 Q458,611 447.8,613.6 Q436,616 419.8,616.1 H319 Q312,616 308,614"/>
<path class="t" d="M319.9,488.1 V616.1 M328,488.1 V616.1 M420.3,488.1 V616.1 M428.5,488.5 V615.8 M450.2,492 V613.5"/>
<path class="o" d="M478.5,532.5 H485.5 V571 H478.5 Z M476.7,535 V569"/>
<rect x="307.2" y="550.4" width="170.2" height="2.4" fill="#999"/>
<path class="t" d="M307.2,550.3 H477.4 M307.2,552.9 H477.4"/>
<rect x="366.1" y="546.9" width="44.4" height="10.8" fill="#fff" stroke="#222" stroke-width="0.8"/>
<path class="t" d="M366.5,547 L371,551.6 L366.5,556.8 M410,547 L405.5,551.6 L410,556.8 M371,549.5 H405.5 M371,553.8 H405.5 M380,547 L383,549.5 M396,547 L393,549.5 M380,557 L383,553.8 M396,557 L393,553.8"/>
<rect x="375" y="549.8" width="26" height="3.8" fill="#bbb"/>
<line class="c" x1="485" y1="551.6" x2="495" y2="551.6"/>
<path class="o" d="M138.3,553.9 V661.5 M140,553.9 V661.5 M239.5,566 V661.5 M236.8,566 V661.5"/>
<path class="o" d="M138.3,553 H239.5 M138.3,565.5 H239.5 M138.3,568.5 H239.5 M138.3,661.5 H239.5"/>
<path class="t" d="M142.8,570 V656.4 H235.8 V570 M142.8,570 L156.1,587.7 M235.8,570.6 L222.8,587.3 M144.5,570 L157.5,587"/>
<path class="o" d="M156.1,587.7 H222.8 V656.4 M156.1,587.7 V656.4 M224.7,587 V656.4"/>
<circle cx="141" cy="567.3" r="1.2" fill="#222"/>
<circle cx="141" cy="613.5" r="1.2" fill="#222"/>
<circle cx="141" cy="661.2" r="1.2" fill="#222"/>
<circle cx="237.5" cy="567.3" r="1.2" fill="#222"/>
<circle cx="237.5" cy="614.2" r="1.2" fill="#222"/>
<circle cx="237.5" cy="661.2" r="1.2" fill="#222"/>
<path class="e" d="M138.3,563.2 H236"/>
<path class="t" d="M240.5,540 V586.4 M283.1,540 V586.4 M266.4,540 V549"/>
<path class="o" d="M242.3,586.4 H284 V617.9 M242.3,586.4 V617.9 M236.8,614.2 H283"/>
<path class="o" d="M249.4,592 L251.4,588.5 H257.4 L259.4,592 V597.5 H249.4 Z"/>
<path class="o" d="M250.20000000000002,597.5 V606 H258.6 V597.5"/>
<ellipse fill="#1a1a1a" cx="254.4" cy="610.5" rx="4.2" ry="4"/>
<path class="o" d="M249.9,614.5 V624 H258.9 V614.5"/>
<path fill="#1a1a1a" d="M250.4,625.3 H258.4 V635 Q258.4,638.5 254.4,638.5 Q250.4,638.5 250.4,635 Z"/>
<rect fill="#fff" x="251.4" y="627.5" width="6" height="0.9"/><rect fill="#fff" x="251.4" y="630.5" width="6" height="0.9"/><rect fill="#fff" x="251.4" y="633.5" width="6" height="0.9"/>
<path class="o" d="M269.8,592 L271.8,588.5 H277.8 L279.8,592 V597.5 H269.8 Z"/>
<path class="o" d="M270.6,597.5 V606 H279.0 V597.5"/>
<ellipse fill="#1a1a1a" cx="274.8" cy="610.5" rx="4.2" ry="4"/>
<path class="o" d="M270.3,614.5 V624 H279.3 V614.5"/>
<path fill="#1a1a1a" d="M270.8,625.3 H278.8 V635 Q278.8,638.5 274.8,638.5 Q270.8,638.5 270.8,635 Z"/>
<rect fill="#fff" x="271.8" y="627.5" width="6" height="0.9"/><rect fill="#fff" x="271.8" y="630.5" width="6" height="0.9"/><rect fill="#fff" x="271.8" y="633.5" width="6" height="0.9"/>
<circle class="o" cx="264.6" cy="591.9" r="1.6"/><circle class="o" cx="264.6" cy="614.5" r="1.5"/>
<g>
<text transform="matrix(0.12104 0 0 0.11857 8.62 8.80)" font-weight="bold">16</text>
<text transform="matrix(0.11754 0 0 0.13714 261.13 32.00)">1540</text>
<text transform="matrix(0.11209 0 0 0.12714 76.57 50.60)">161</text>
<text transform="matrix(0.11995 0 0 0.12714 177.47 50.60)">585</text>
<text transform="matrix(0 -0.11766 0.13000 0 8.90 173.44)">712</text>
<text transform="matrix(0 -0.11242 0.13143 0 27.80 190.10)">598</text>
<text transform="matrix(0 -0.11171 0.13429 0 47.00 230.19)">305</text>
<text transform="matrix(0 -0.11881 0.12857 0 526.20 183.74)">645</text>
<text transform="matrix(0 -0.11920 0.12000 0 506.70 230.61)">305</text>
<text transform="matrix(0.12961 0 0 0.12571 87.70 283.40)">60</text>
<text transform="matrix(0.12230 0 0 0.12286 69.79 302.70)">116</text>
<text transform="matrix(0.11692 0 0 0.13143 180.47 303.00)">695</text>
<text transform="matrix(0.12669 0 0 0.12143 278.32 284.00)">60</text>
<text transform="matrix(0.12449 0 0 0.11714 95.08 364.60)" font-weight="bold">6</text>
<text transform="matrix(0.11541 0 0 0.12143 65.64 378.50)">1/4-18 NPTF</text>
<text transform="matrix(0.12104 0 0 0.11714 177.02 364.60)" font-weight="bold">12</text>
<text transform="matrix(0.11755 0 0 0.12143 149.53 378.50)">1/8-27 NPTF</text>
<text transform="matrix(0.12400 0 0 0.11714 261.98 364.60)" font-weight="bold">5</text>
<text transform="matrix(0.11731 0 0 0.12143 235.68 378.50)">5/8-18 UNF</text>
<text transform="matrix(0.13469 0 0 0.11429 319.95 364.40)" font-weight="bold">9</text>
<text transform="matrix(0.11200 0 0 0.11714 384.01 364.90)" font-weight="bold">8</text>
<text transform="matrix(0.11585 0 0 0.12286 348.34 378.60)">1 1/8-18 UNEF</text>
<text transform="matrix(0.09455 0 0 0.11714 489.46 364.90)" font-weight="bold">4</text>
<text transform="matrix(0.11662 0 0 0.12286 453.43 378.60)">1 1/8-18 UNEF</text>
<text transform="matrix(0.11934 0 0 0.11571 553.01 8.50)" font-weight="bold">3 (LP)</text>
<text transform="matrix(0.11541 0 0 0.12571 536.64 22.50)">1/8-27 NPTF</text>
<text transform="matrix(0.11629 0 0 0.12286 709.77 16.20)">683</text>
<text transform="matrix(0.11713 0 0 0.12286 683.63 31.50)">146</text>
<text transform="matrix(0.11777 0 0 0.12571 689.43 50.70)">105</text>
<text transform="matrix(0 -0.11694 0.12571 0 609.60 165.13)">26</text>
<text transform="matrix(0 -0.11581 0.12571 0 609.60 199.31)">56</text>
<text transform="matrix(0 -0.11566 0.12571 0 609.60 241.40)">35</text>
<text transform="matrix(0.12669 0 0 0.12714 681.22 283.70)">20</text>
<text transform="matrix(0.11521 0 0 0.12714 728.64 283.70)">180</text>
<text transform="matrix(0.11687 0 0 0.12714 781.00 285.00)">Ø17</text>
<text transform="matrix(0.11908 0 0 0.12714 690.21 302.70)">400</text>
<text transform="matrix(0.11908 0 0 0.13143 690.21 321.70)">465</text>
<text transform="matrix(0.11396 0 0 0.12714 661.91 340.80)">311</text>
<text transform="matrix(0.12309 0 0 0.12714 752.78 340.80)">362</text>
<text transform="matrix(0.12402 0 0 0.13143 707.53 359.80)">692</text>
<text transform="matrix(0.11521 0 0 0.11429 911.56 42.90)" font-weight="bold">1 (HP)</text>
<text transform="matrix(0.11559 0 0 0.12143 895.74 56.50)">1/8-27 NPTF</text>
<text transform="matrix(0.11860 0 0 0.11429 996.79 42.90)" font-weight="bold">2 (HP)</text>
<text transform="matrix(0.11666 0 0 0.12143 980.43 56.50)">1/8-27 NPTF</text>
<text transform="matrix(0.11809 0 0 0.12286 1085.84 43.40)" font-weight="bold">13</text>
<text transform="matrix(0.11688 0 0 0.12000 1061.00 55.80)">Ø28 (1 1/8&quot;)</text>
<text transform="matrix(0.11078 0 0 0.12286 1150.99 43.40)" font-weight="bold">14</text>
<text transform="matrix(0.12449 0 0 0.12143 1134.85 56.30)">M10x1,5</text>
<text transform="matrix(0 -0.12474 0.13143 0 895.80 257.77)">25</text>
<text transform="matrix(0.12162 0 0 0.13286 991.00 300.50)">185</text>
<text transform="matrix(0.12281 0 0 0.13286 1075.10 300.50)">455</text>
<text transform="matrix(0.11694 0 0 0.11714 934.05 323.40)" font-weight="bold">15</text>
<text transform="matrix(0.11776 0 0 0.11429 917.41 336.40)">M22x1,5</text>
<text transform="matrix(0.11655 0 0 0.12000 892.65 350.60)">(Valve connection:</text>
<text transform="matrix(0.11698 0 0 0.11714 911.90 363.80)">Ø12 / 1/2&quot;)</text>
<text transform="matrix(0.10530 0 0 0.11714 1025.72 323.40)" font-weight="bold">10</text>
<text transform="matrix(0.11861 0 0 0.11714 996.12 337.20)">1/8-27 NPTF</text>
<text transform="matrix(0.11123 0 0 0.11714 1120.88 323.40)" font-weight="bold">11</text>
<text transform="matrix(0.11764 0 0 0.11429 1096.06 336.40)">2x M26x1,5</text>
<text transform="matrix(0.11740 0 0 0.12286 1072.65 350.80)">(Adaptor connection:</text>
<text transform="matrix(0.11719 0 0 0.11714 1090.46 363.80)">2x Ø22 / 7/8&quot;)</text>
<text transform="matrix(0.11641 0 0 0.13857 65.02 418.00)" font-weight="bold">SL</text>
<text transform="matrix(0.11740 0 0 0.13429 227.05 418.00)" font-weight="bold">DL</text>
<text transform="matrix(0 -0.12025 0.13286 0 46.70 588.59)">40</text>
</g>
</svg>
</body></html>
